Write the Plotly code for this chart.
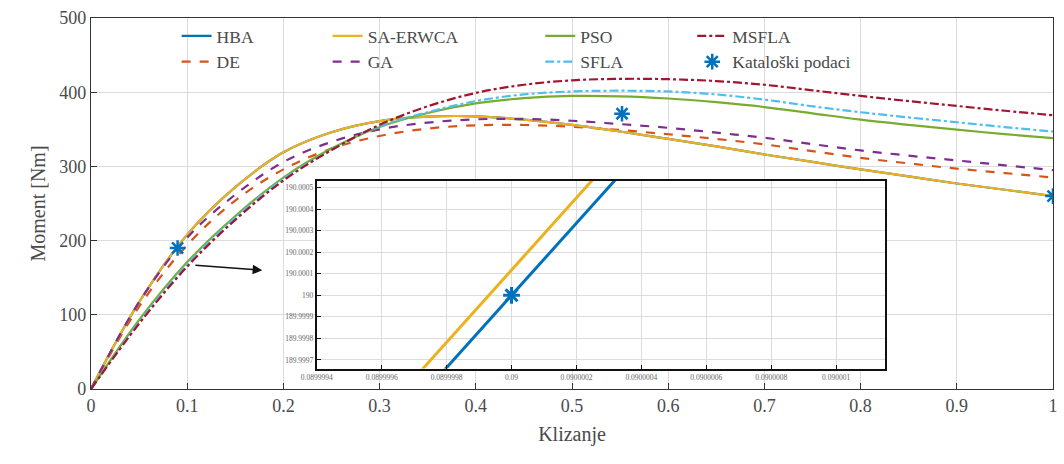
import plotly.graph_objects as go

# ---------------- data ----------------
slip = [0, 0.05, 0.1, 0.15, 0.2, 0.25, 0.3, 0.35, 0.4, 0.45, 0.5,
        0.55, 0.6, 0.65, 0.7, 0.75, 0.8, 0.85, 0.9, 0.95, 1.0]

hba      = [0, 117, 208, 272, 319, 346, 361, 367, 367.5, 363, 356, 347, 337, 327, 316, 306, 296, 286.5, 277, 268.5, 260]
sa_erwca = [0, 117, 208, 272, 319, 346, 361, 367, 367.5, 363, 356, 347, 337, 327, 316, 306, 296, 286.5, 277, 268.5, 260]
pso      = [0, 93, 171, 233, 285, 324, 353, 372, 385, 392, 395, 394.5, 391.5, 386.5, 380, 371.5, 363, 356, 349.5, 343.5, 338]
msfla    = [0, 88, 165, 228, 281, 322, 356, 381, 399, 410, 416, 418, 417.5, 415, 410, 402.5, 395, 388, 381.5, 375, 369]
de       = [0, 111, 194, 254, 296, 324, 341, 351, 355.4, 355.8, 353.4, 349, 343.3, 337, 329.7, 320.5, 311.5, 304, 297, 291, 285]
ga       = [0, 117, 204, 262, 306, 333, 350, 359, 363.4, 364, 361.5, 357, 352, 345.5, 338.6, 330, 321.5, 314.5, 308, 301.5, 295]
sfla     = [0, 90, 168, 231, 283, 322, 354, 373, 388, 397, 401, 402, 401, 397, 390, 381, 373, 366, 359.5, 353, 347]

catalog_slip = [0.09, 0.552, 1.0]
catalog_torque = [190, 371, 260]

# zoomed (inset) data around the catalog point
zoom_hba_s = [0.0899997, 0.0900004]
zoom_hba_T = [189.999497, 190.00067]
zoom_sa_s = [0.0899996, 0.0900003]
zoom_sa_T = [189.999447, 190.00062]
zoom_cat_s = [0.09]
zoom_cat_T = [190.0]

x_ticks = [0, 0.1, 0.2, 0.3, 0.4, 0.5, 0.6, 0.7, 0.8, 0.9, 1]
x_ticktext = ["0", "0.1", "0.2", "0.3", "0.4", "0.5", "0.6", "0.7", "0.8", "0.9", "1"]
y_ticks = [0, 100, 200, 300, 400, 500]

zoom_x_ticks = [0.0899994, 0.0899996, 0.0899998, 0.09, 0.0900002, 0.0900004,
                0.0900006, 0.0900008, 0.090001]
zoom_x_text = ["0.0899994", "0.0899996", "0.0899998", "0.09", "0.0900002",
               "0.0900004", "0.0900006", "0.0900008", "0.090001"]
zoom_y_ticks = [189.9997, 189.9998, 189.9999, 190.0, 190.0001, 190.0002,
                190.0003, 190.0004, 190.0005]
zoom_y_text = ["189.9997", "189.9998", "189.9999", "190", "190.0001", "190.0002",
               "190.0003", "190.0004", "190.0005"]

# ---------------- styles ----------------
C_HBA = "#0072BD"
C_SA = "#EDB120"
C_PSO = "#77AC30"
C_MSFLA = "#A2142F"
C_DE = "#D95319"
C_GA = "#7E2F8E"
C_SFLA = "#4DBEEE"
FONT = "Liberation Serif"
TXT = "#4a4a4a"
GRID = "#dcdcdc"
AX = "#333333"

fig = go.Figure()

def add_line(x, y, name, color, dash, legend):
    fig.add_trace(go.Scatter(x=x, y=y, name=name, mode="lines",
                             line=dict(color=color, width=2.2, dash=dash, shape="spline", smoothing=1.0),
                             legend=legend))

add_line(slip, hba, "HBA", C_HBA, "solid", "legend")
add_line(slip, de, "DE", C_DE, "dash", "legend")
add_line(slip, sa_erwca, "SA-ERWCA", C_SA, "solid", "legend2")
add_line(slip, ga, "GA", C_GA, "dash", "legend2")
add_line(slip, pso, "PSO", C_PSO, "solid", "legend3")
add_line(slip, sfla, "SFLA", C_SFLA, "dashdot", "legend3")
add_line(slip, msfla, "MSFLA", C_MSFLA, "dashdot", "legend4")
fig.add_trace(go.Scatter(x=catalog_slip, y=catalog_torque, name="Kataloški podaci",
                         mode="markers", legend="legend4",
                         marker=dict(symbol="asterisk-open", size=13, color=C_HBA,
                                     line=dict(color=C_HBA, width=2.5))))

# inset traces
fig.add_trace(go.Scatter(x=zoom_hba_s, y=zoom_hba_T, mode="lines", showlegend=False,
                         line=dict(color=C_HBA, width=3), xaxis="x2", yaxis="y2"))
fig.add_trace(go.Scatter(x=zoom_sa_s, y=zoom_sa_T, mode="lines", showlegend=False,
                         line=dict(color=C_SA, width=3), xaxis="x2", yaxis="y2"))
fig.add_trace(go.Scatter(x=zoom_cat_s, y=zoom_cat_T, mode="markers", showlegend=False,
                         marker=dict(symbol="asterisk-open", size=14, color=C_HBA,
                                     line=dict(color=C_HBA, width=3)),
                         xaxis="x2", yaxis="y2"))

# white background for inset (covers main curves)
fig.add_shape(type="rect", xref="x2 domain", yref="y2 domain", x0=0, x1=1, y0=0, y1=1,
              fillcolor="white", line=dict(width=0), layer="below")

# arrow
fig.add_annotation(x=0.178, y=160, ax=0.107, ay=167, xref="x", yref="y",
                   axref="x", ayref="y", showarrow=True, arrowhead=2, arrowsize=1.2,
                   arrowwidth=1.6, arrowcolor="#111111", text="")

legend_common = dict(bgcolor="rgba(0,0,0,0)", borderwidth=0, yanchor="top", y=1.0,
                     xanchor="left", font=dict(family=FONT, size=17.5, color=TXT),
                     tracegroupgap=0, itemwidth=30)

fig.update_layout(
    width=1064, height=464,
    margin=dict(l=91, r=6, t=18, b=75),
    paper_bgcolor="white", plot_bgcolor="white",
    font=dict(family=FONT, color=TXT),
    legend=dict(legend_common, x=0.089),
    legend2=dict(legend_common, x=0.246),
    legend3=dict(legend_common, x=0.467),
    legend4=dict(legend_common, x=0.625),
    xaxis=dict(range=[0, 1], tickvals=x_ticks, ticktext=x_ticktext,
               showgrid=True, gridcolor=GRID, gridwidth=1,
               showline=True, mirror=True, linecolor=AX, linewidth=1.2,
               ticks="inside", ticklen=6, tickcolor=AX,
               tickfont=dict(family=FONT, size=18, color=TXT),
               title=dict(text="Klizanje", font=dict(family=FONT, size=20, color=TXT), standoff=12),
               zeroline=False),
    yaxis=dict(range=[0, 500], tickvals=y_ticks,
               showgrid=True, gridcolor=GRID, gridwidth=1,
               showline=True, mirror=True, linecolor=AX, linewidth=1.2,
               ticks="inside", ticklen=6, tickcolor=AX,
               tickfont=dict(family=FONT, size=18, color=TXT),
               title=dict(text="Moment [Nm]", font=dict(family=FONT, size=20, color=TXT), standoff=8),
               zeroline=False),
    xaxis2=dict(domain=[0.2347, 0.8252], anchor="y2",
                range=[0.0899994, 0.09000115],
                tickvals=zoom_x_ticks, ticktext=zoom_x_text,
                showgrid=True, gridcolor=GRID, gridwidth=1,
                showline=True, mirror=True, linecolor="#111111", linewidth=2,
                ticks="inside", ticklen=4, tickcolor="#111111",
                tickfont=dict(family=FONT, size=7.5, color="#666666"),
                zeroline=False),
    yaxis2=dict(domain=[0.055, 0.5606], anchor="x2",
                range=[189.99966, 190.00053],
                tickvals=zoom_y_ticks, ticktext=zoom_y_text,
                showgrid=True, gridcolor=GRID, gridwidth=1,
                showline=True, mirror=True, linecolor="#111111", linewidth=2,
                ticks="inside", ticklen=4, tickcolor="#111111",
                tickfont=dict(family=FONT, size=7.5, color="#666666"),
                zeroline=False),
)

fig.write_html("out.html")
